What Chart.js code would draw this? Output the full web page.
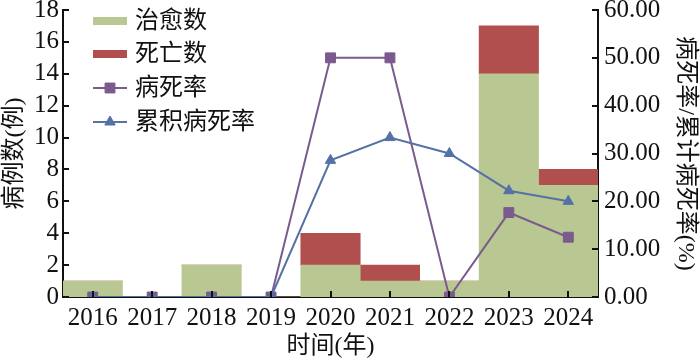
<!DOCTYPE html>
<html>
<head>
<meta charset="utf-8">
<script src="https://cdn.jsdelivr.net/npm/chart.js@4"></script>
<style>
  html, body { margin: 0; padding: 0; background: #fff; }
  #wrap { width: 700px; height: 361px; }
</style>
</head>
<body>
<div id="wrap"><canvas id="c"></canvas></div>
<script>
// datos
const years = ['2016', '2017', '2018', '2019', '2020', '2021', '2022', '2023', '2024'];
const cured = [1, 0, 2, 0, 2, 1, 1, 14, 7];
const deaths = [0, 0, 0, 0, 2, 1, 0, 3, 1];
const fatality = [0, 0, 0, 0, 50, 50, 0, 17.65, 12.5];
const cumFatality = [0, 0, 0, 0, 28.57, 33.33, 30, 22.22, 20];
const leftTicks = [0, 2, 4, 6, 8, 10, 12, 14, 16, 18];
const rightTicks = [0, 10, 20, 30, 40, 50, 60];

const numFont = { family: '"Liberation Serif", "Noto Sans CJK SC"', size: 25 };
const cjkFont = { family: '"Liberation Serif", "Noto Sans CJK SC"', size: 24 };

// leyenda dibujada dentro del area del grafico
const legendInside = {
  id: 'legendInside',
  afterDraw(chart) {
    const ctx = chart.ctx;
    const x0 = 93, x1 = 127, tx = 135;
    const rows = [21, 54, 88, 122];
    ctx.save();
    ctx.font = cjkFont.size + 'px ' + cjkFont.family;
    ctx.textBaseline = 'middle';
    chart.data.datasets.forEach((ds, i) => {
      const y = rows[i];
      if (ds.type === 'bar') {
        ctx.fillStyle = ds.backgroundColor;
        ctx.fillRect(x0, y - 4, x1 - x0, 8);
      } else {
        ctx.strokeStyle = ds.borderColor;
        ctx.lineWidth = ds.borderWidth;
        ctx.beginPath();
        ctx.moveTo(x0, y);
        ctx.lineTo(x1, y);
        ctx.stroke();
        ctx.fillStyle = ds.pointBackgroundColor;
        ctx.strokeStyle = ds.pointBorderColor;
        ctx.lineWidth = 1;
        Chart.helpers.drawPoint(ctx, {
          pointStyle: ds.pointStyle, radius: ds.pointRadius, rotation: 0, borderWidth: 1
        }, (x0 + x1) / 2, y);
      }
      ctx.fillStyle = '#111';
      ctx.fillText(ds.label, tx, y + 1);
    });
    ctx.restore();
  }
};

// fija el margen superior del area del grafico
const fixPad = s => { s.paddingTop = 10; s.paddingBottom = 0; };

const ctx = document.getElementById('c').getContext('2d');
new Chart(ctx, {
  data: {
    labels: years,
    datasets: [
      {
        type: 'bar', label: '治愈数', data: cured, yAxisID: 'y', stack: 's',
        backgroundColor: '#b9c892', barPercentage: 1, categoryPercentage: 1, order: 2
      },
      {
        type: 'bar', label: '死亡数', data: deaths, yAxisID: 'y', stack: 's',
        backgroundColor: '#b04f4d', barPercentage: 1, categoryPercentage: 1, order: 2
      },
      {
        type: 'line', label: '病死率', data: fatality, yAxisID: 'y2',
        borderColor: '#7b5a8e', borderWidth: 2, pointStyle: 'rect', pointRadius: 7,
        pointBackgroundColor: '#7b5a8e', pointBorderColor: '#7b5a8e', pointBorderWidth: 1,
        tension: 0, order: 1
      },
      {
        type: 'line', label: '累积病死率', data: cumFatality, yAxisID: 'y2',
        borderColor: '#5571a6', borderWidth: 2, pointStyle: 'triangle', pointRadius: 6,
        pointBackgroundColor: '#5571a6', pointBorderColor: '#5571a6', pointBorderWidth: 1,
        tension: 0, order: 0
      }
    ]
  },
  options: {
    responsive: true,
    maintainAspectRatio: false,
    animation: false,
    layout: { padding: { top: 0, bottom: 0, left: 0, right: 0 } },
    plugins: { legend: { display: false }, tooltip: { enabled: false } },
    scales: {
      x: {
        stacked: true,
        grid: { display: false, drawTicks: false },
        border: { color: '#111', width: 2 },
        ticks: { color: '#111', font: numFont, padding: 6, maxRotation: 0, autoSkip: false },
        title: { display: true, text: '时间(年)', color: '#111', font: cjkFont, padding: { top: 4, bottom: 0 } },
        afterFit: s => { s.height = 64; s.paddingLeft = 0; s.paddingRight = 0; }
      },
      y: {
        stacked: true,
        position: 'left',
        min: 0, max: 18,
        afterBuildTicks: s => { s.ticks = leftTicks.map(v => ({ value: v })); },
        grid: { display: false, drawTicks: false },
        border: { color: '#111', width: 2 },
        ticks: { color: '#111', font: numFont, padding: 4, autoSkip: false },
        title: { display: true, text: '病例数(例)', color: '#111', font: cjkFont, padding: 0 },
        afterFit: s => { s.width = 63; fixPad(s); }
      },
      y2: {
        position: 'right',
        min: 0, max: 60,
        afterBuildTicks: s => { s.ticks = rightTicks.map(v => ({ value: v })); },
        grid: { display: false, drawTicks: false },
        border: { color: '#111', width: 2 },
        ticks: { color: '#111', font: numFont, padding: 6, autoSkip: false, callback: v => v.toFixed(2) },
        title: { display: true, text: '病死率/累计病死率(%)', color: '#111', font: cjkFont, padding: 0 },
        afterFit: s => { s.width = 102; fixPad(s); }
      }
    }
  },
  plugins: [legendInside, {
    // marcas de escala hacia dentro
    id: 'innerTicks',
    afterDatasetsDraw(chart) {
      const c = chart.ctx, a = chart.chartArea;
      const sx = chart.scales.x, sy = chart.scales.y, sy2 = chart.scales.y2;
      c.save();
      c.strokeStyle = '#111';
      c.lineWidth = 2;
      c.beginPath();
      years.forEach((_, i) => {
        const x = Math.round(sx.getPixelForValue(i));
        c.moveTo(x, a.bottom); c.lineTo(x, a.bottom - 6);
      });
      leftTicks.forEach(v => {
        const y = Math.round(sy.getPixelForValue(v));
        c.moveTo(a.left, y); c.lineTo(a.left + 6, y);
      });
      rightTicks.forEach(v => {
        const y = Math.round(sy2.getPixelForValue(v));
        c.moveTo(a.right, y); c.lineTo(a.right - 6, y);
      });
      c.stroke();
      c.restore();
    }
  }]
});
</script>
</body>
</html>
